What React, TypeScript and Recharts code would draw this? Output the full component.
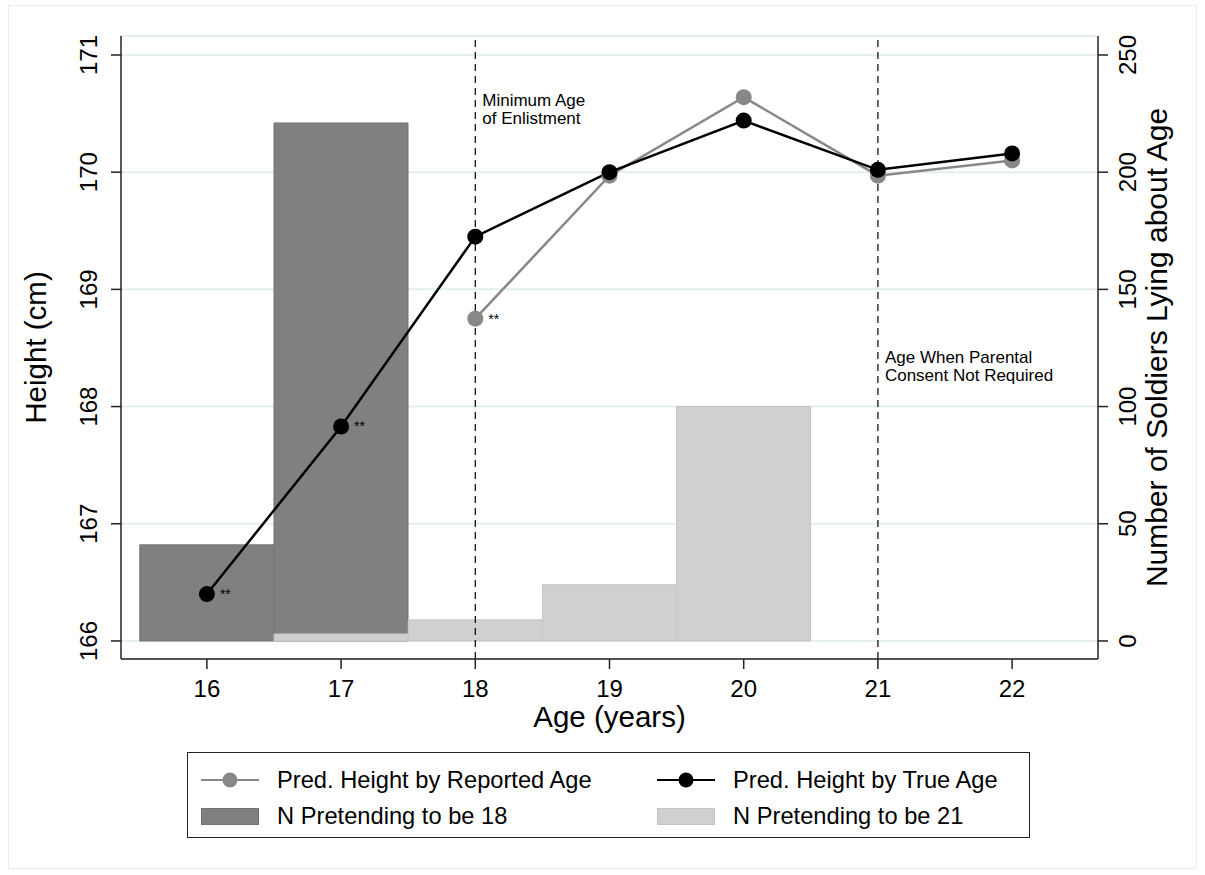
import React from 'react';
import {
  ComposedChart,
  Bar,
  Line,
  XAxis,
  YAxis,
  CartesianGrid,
  ReferenceLine,
  LabelList,
} from 'recharts';

const ages = [16, 17, 18, 19, 20, 21, 22];
const heightByReportedAge = [null, null, 168.75, 169.97, 170.64, 169.97, 170.1];
const heightByTrueAge = [166.4, 167.83, 169.45, 170.0, 170.44, 170.02, 170.16];
const nPretending18 = [41, 221, null, null, null, null, null];
const nPretending21 = [null, 3, 9, 24, 100, null, null];
const reportedStars = ['', '', '**', '', '', '', ''];
const trueStars = ['**', '**', '', '', '', '', ''];
const heightTicks = [166, 167, 168, 169, 170, 171];
const countTicks = [0, 50, 100, 150, 200, 250];
const ageTicks = [16, 17, 18, 19, 20, 21, 22];

const data = ages.map((age, i) => ({
  age,
  reported: heightByReportedAge[i],
  trueAge: heightByTrueAge[i],
  n18: nPretending18[i],
  n21: nPretending21[i],
  rStar: reportedStars[i],
  tStar: trueStars[i],
}));

const FONT = '"Liberation Sans", Arial, Helvetica, sans-serif';

const XTick = (props: any) => {
  const { x, y, payload } = props;
  return (
    <text x={x} y={y + 28} textAnchor="middle" fontSize={24} fontFamily={FONT} fill="#000">
      {payload.value}
    </text>
  );
};

const LeftTick = (props: any) => {
  const { x, y, payload } = props;
  const bx = x - 14;
  return (
    <text
      x={bx}
      y={y}
      transform={`rotate(-90 ${bx} ${y})`}
      textAnchor="middle"
      fontSize={24}
      fontFamily={FONT}
      fill="#000"
    >
      {payload.value}
    </text>
  );
};

const RightTick = (props: any) => {
  const { x, y, payload } = props;
  const bx = x + 28;
  return (
    <text
      x={bx}
      y={y}
      transform={`rotate(-90 ${bx} ${y})`}
      textAnchor="middle"
      fontSize={24}
      fontFamily={FONT}
      fill="#000"
    >
      {payload.value}
    </text>
  );
};

const StarLabel = (props: any) => {
  const { x, y, value } = props;
  if (!value) return null;
  return (
    <text x={x + 13} y={y + 5} fontSize={14} fontFamily={FONT} fill="#000">
      {value}
    </text>
  );
};

const vbOf = (props: any, fallback: any) => props?.viewBox ?? fallback;

const XTitle = (props: any) => {
  const vb = vbOf(props, { x: 121, y: 659, width: 977, height: 60 });
  return (
    <text x={vb.x + vb.width / 2} y={vb.y + 68} textAnchor="middle" fontSize={29.5} fontFamily={FONT} fill="#000">
      Age (years)
    </text>
  );
};

const LeftTitle = (props: any) => {
  const vb = vbOf(props, { x: 61, y: 36, width: 60, height: 623 });
  const cx = vb.x - 15;
  const cy = vb.y + vb.height / 2;
  return (
    <text x={cx} y={cy} transform={`rotate(-90 ${cx} ${cy})`} textAnchor="middle" fontSize={29.5} fontFamily={FONT} fill="#000">
      Height (cm)
    </text>
  );
};

const RightTitle = (props: any) => {
  const vb = vbOf(props, { x: 1098, y: 36, width: 60, height: 623 });
  const cx = vb.x + 69;
  const cy = vb.y + vb.height / 2;
  return (
    <text x={cx} y={cy} transform={`rotate(-90 ${cx} ${cy})`} textAnchor="middle" fontSize={30} fontFamily={FONT} fill="#000">
      Number of Soldiers Lying about Age
    </text>
  );
};

const makeRefLabel = (lines: string[], dy: number) => (props: any) => {
  const vb = props?.viewBox ?? { x: 0, y: 36 };
  return (
    <text x={vb.x + 7} y={vb.y + dy} fontSize={17} fontFamily={FONT} fill="#000">
      {lines.map((l, i) => (
        <tspan key={i} x={vb.x + 7} dy={i === 0 ? 0 : 18}>
          {l}
        </tspan>
      ))}
    </text>
  );
};

const LegendBox = () => {
  const text: React.CSSProperties = {
    position: 'absolute',
    fontFamily: FONT,
    fontSize: 23.7,
    lineHeight: '26px',
    color: '#000',
    whiteSpace: 'nowrap',
  };
  const lineSym = (color: string, left: number, top: number) => (
    <svg style={{ position: 'absolute', left, top }} width={60} height={20}>
      <line x1={0} y1={10} x2={58} y2={10} stroke={color} strokeWidth={2} />
      <circle cx={29} cy={10} r={7.5} fill={color} />
    </svg>
  );
  const barSym = (fill: string, stroke: string, left: number, top: number) => (
    <div
      style={{
        position: 'absolute',
        left,
        top,
        width: 58,
        height: 17,
        background: fill,
        border: `1px solid ${stroke}`,
        boxSizing: 'border-box',
      }}
    />
  );
  return (
    <div
      style={{
        position: 'absolute',
        left: 187,
        top: 752,
        width: 843,
        height: 86,
        border: '1.5px solid #222',
        boxSizing: 'border-box',
        background: '#fff',
      }}
    >
      {lineSym('#888888', 13, 17)}
      <span style={{ ...text, left: 89, top: 14 }}>Pred. Height by Reported Age</span>
      {lineSym('#000000', 469, 17)}
      <span style={{ ...text, left: 545, top: 14 }}>Pred. Height by True Age</span>
      {barSym('#808080', '#727272', 13, 55)}
      <span style={{ ...text, left: 89, top: 50 }}>N Pretending to be 18</span>
      {barSym('#d0d0d0', '#c4c4c4', 469, 55)}
      <span style={{ ...text, left: 545, top: 50 }}>N Pretending to be 21</span>
    </div>
  );
};

export default function App() {
  return (
    <div style={{ position: 'absolute', left: 0, top: 0, width: 1205, height: 875, background: '#fff' }}>
      <div
        style={{
          position: 'absolute',
          left: 8,
          top: 5,
          width: 1189,
          height: 864,
          border: '1px solid #e6eeee',
          boxSizing: 'border-box',
        }}
      />
      <div style={{ position: 'absolute', left: 0, top: 0 }}>
        <ComposedChart
          width={1205}
          height={875}
          data={data}
          margin={{ top: 36, right: 47, bottom: 156, left: 61 }}
          barCategoryGap={0}
          barGap={0}
        >
          <CartesianGrid vertical={false} yAxisId="left" xAxisId="a" stroke="#e4eeee" strokeWidth={2} />
          <XAxis
            xAxisId="a"
            dataKey="age"
            type="number"
            domain={[15.36, 22.64]}
            ticks={ageTicks}
            tickCount={8}
            interval={0}
            height={60}
            tickSize={10}
            tickMargin={0}
            tick={<XTick />}
            axisLine={{ stroke: '#222', strokeWidth: 1.5 }}
            tickLine={{ stroke: '#222', strokeWidth: 1.5 }}
            label={XTitle}
          />
          <XAxis
            xAxisId="b"
            dataKey="age"
            type="number"
            domain={[15.36, 22.64]}
            ticks={ageTicks}
            tickCount={8}
            height={60}
            hide
          />
          <YAxis
            yAxisId="left"
            orientation="left"
            type="number"
            domain={[165.846, 171.162]}
            ticks={heightTicks}
            interval={0}
            width={60}
            tickSize={10}
            tickMargin={0}
            tick={<LeftTick />}
            axisLine={{ stroke: '#222', strokeWidth: 1.5 }}
            tickLine={{ stroke: '#222', strokeWidth: 1.5 }}
            label={LeftTitle}
          />
          <YAxis
            yAxisId="right"
            orientation="right"
            type="number"
            domain={[-7.7, 258.1]}
            ticks={countTicks}
            interval={0}
            width={60}
            tickSize={10}
            tickMargin={0}
            tick={<RightTick />}
            axisLine={{ stroke: '#222', strokeWidth: 1.5 }}
            tickLine={{ stroke: '#222', strokeWidth: 1.5 }}
            label={RightTitle}
          />
          <Bar
            xAxisId="a"
            yAxisId="right"
            dataKey="n18"
            name="N Pretending to be 18"
            fill="#808080"
            stroke="#727272"
            strokeWidth={1}
            barSize={134}
            isAnimationActive={false}
          />
          <Bar
            xAxisId="b"
            yAxisId="right"
            dataKey="n21"
            name="N Pretending to be 21"
            fill="#d0d0d0"
            stroke="#c4c4c4"
            strokeWidth={1}
            barSize={134}
            isAnimationActive={false}
          />
          <ReferenceLine
            xAxisId="a"
            yAxisId="left"
            x={18}
            stroke="#000"
            strokeWidth={1.2}
            strokeDasharray="7 5"
            label={makeRefLabel(['Minimum Age', 'of Enlistment'], 70)}
          />
          <ReferenceLine
            xAxisId="a"
            yAxisId="left"
            x={21}
            stroke="#000"
            strokeWidth={1.2}
            strokeDasharray="7 5"
            label={makeRefLabel(['Age When Parental', 'Consent Not Required'], 327)}
          />
          <Line
            xAxisId="a"
            yAxisId="left"
            dataKey="reported"
            name="Pred. Height by Reported Age"
            stroke="#888888"
            strokeWidth={2.5}
            dot={{ r: 8, fill: '#888888', stroke: 'none' }}
            activeDot={false}
            isAnimationActive={false}
          >
            <LabelList dataKey="rStar" content={StarLabel} />
          </Line>
          <Line
            xAxisId="a"
            yAxisId="left"
            dataKey="trueAge"
            name="Pred. Height by True Age"
            stroke="#000000"
            strokeWidth={2.5}
            dot={{ r: 8, fill: '#000000', stroke: 'none' }}
            activeDot={false}
            isAnimationActive={false}
          >
            <LabelList dataKey="tStar" content={StarLabel} />
          </Line>
        </ComposedChart>
      </div>
      <LegendBox />
    </div>
  );
}
